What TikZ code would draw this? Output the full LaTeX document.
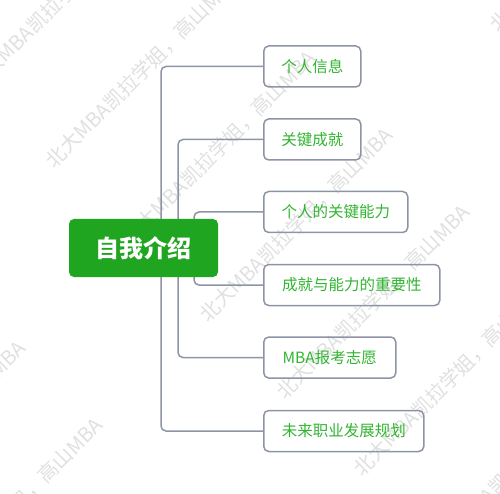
\documentclass[tikz,border=0pt]{standalone}
\usepackage{fontspec}
\setmainfont{Noto Sans CJK SC}
\usetikzlibrary{calc,backgrounds}
\definecolor{rootgreen}{HTML}{1FA51F}
\definecolor{leafgreen}{HTML}{30B530}
\definecolor{edgegray}{HTML}{8C94A6}
\definecolor{wmgray}{HTML}{E0E0E0}
\tikzset{
  leaf/.style={draw=edgegray, line width=1.5pt, rounded corners=5pt,
    minimum height=41pt, anchor=west, text=leafgreen,
    font=\fontsize{15.5}{18}\selectfont, inner sep=0pt},
  rootbox/.style={fill=rootgreen, rounded corners=5pt, minimum width=149pt,
    minimum height=58pt, text=white,
    font=\fontsize{24}{28}\selectfont\bfseries, inner sep=0pt},
  conn/.style={draw=edgegray, line width=1.5pt, rounded corners=5pt},
  wm/.style={text=wmgray, font=\fontsize{20}{24}\selectfont, rotate=45,
    anchor=west, inner sep=0pt}
}
\begin{document}
\begin{tikzpicture}[x=1pt,y=1pt]
\useasboundingbox (0,0) rectangle (500,-494);
\clip (0,0) rectangle (500,-494);

\node[rootbox] (root) at (143.5,-248) {自我介绍};

\node[leaf, minimum width=97pt]  (c1) at (263,-66.5)  {个人信息};
\node[leaf, minimum width=97pt]  (c2) at (263,-139.5) {关键成就};
\node[leaf, minimum width=144pt] (c3) at (263,-212)   {个人的关键能力};
\node[leaf, minimum width=176pt] (c4) at (263,-285)   {成就与能力的重要性};
\node[leaf, minimum width=132pt] (c5) at (263,-357.5) {MBA报考志愿};
\node[leaf, minimum width=160pt] (c6) at (263,-431)   {未来职业发展规划};

\begin{pgfonlayer}{background}
  \foreach \s/\d [count=\i] in {59/-115, 213/-115, 367/-115, 521/-115, 675/-115,
      829/-115, 983/-115, 367/-695, 521/-695, 675/-695, 521/465}
    \node[wm] (wm\i) at ({(\s+\d)/2},{-(\s-\d)/2}) {北大MBA凯拉学姐，高山MBA};
  \draw[conn] ($(root.center)+(17.5,0)$) |- (c1.west);
  \draw[conn] ($(root.center)+(17.5,0)$) |- (c6.west);
  \draw[conn] ($(root.center)+(34.5,0)$) |- (c2.west);
  \draw[conn] ($(root.center)+(34.5,0)$) |- (c5.west);
  \draw[conn] ($(root.center)+(50.5,0)$) |- (c3.west);
  \draw[conn] ($(root.center)+(50.5,0)$) |- (c4.west);
\end{pgfonlayer}
\end{tikzpicture}
\end{document}
